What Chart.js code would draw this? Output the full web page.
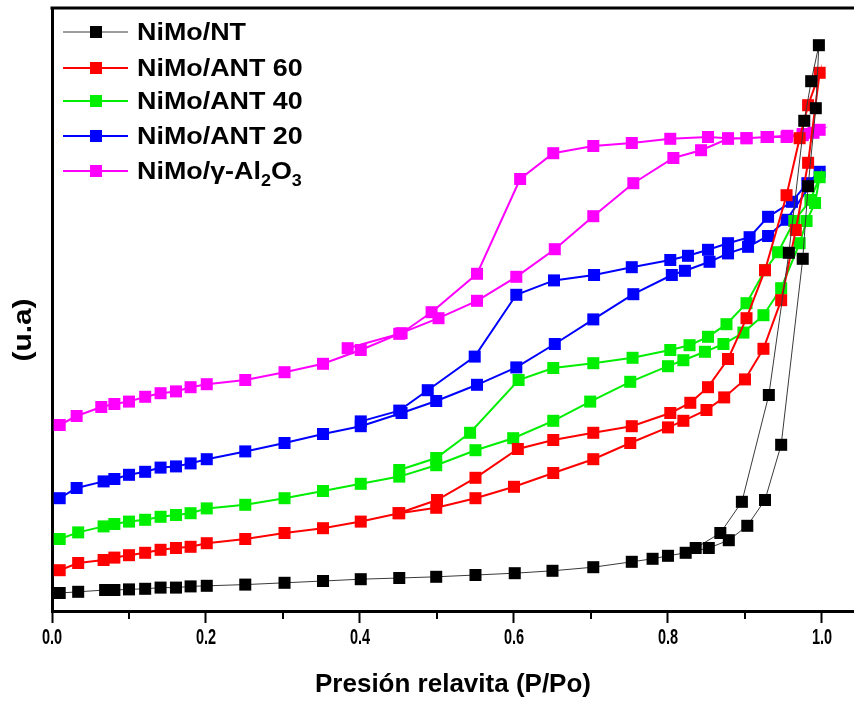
<!DOCTYPE html>
<html>
<head>
<meta charset="utf-8">
<script src="https://cdn.jsdelivr.net/npm/chart.js@4.4.0/dist/chart.umd.min.js"></script>
<style>
  html, body { margin: 0; padding: 0; background: #fff; }
  canvas { display: block; }
</style>
</head>
<body>
<canvas id="iso-canvas" width="854" height="702"></canvas>
<script>
// N2 isotherms: adsorption branch first, then desorption branch back down
const seriesLabels = ['NiMo/NT', 'NiMo/ANT 60', 'NiMo/ANT 40', 'NiMo/ANT 20', 'NiMo/γ-Al2O3'];
const seriesColors = ['#000000', '#ff0000', '#00ee00', '#0000ff', '#ff00ff'];
const lineColors = ['#3a3a3a', '#ff0000', '#00ee00', '#0000ff', '#ff00ff'];

const ntP = [0.010, 0.034, 0.069, 0.081, 0.100, 0.121, 0.141, 0.161, 0.180, 0.201, 0.251, 0.302, 0.352, 0.401,
  0.451, 0.499, 0.550, 0.601, 0.650, 0.703, 0.753, 0.780, 0.800, 0.823, 0.853, 0.879, 0.903, 0.926, 0.947,
  0.975, 0.982, 0.992, 0.996,
  0.986, 0.977, 0.957, 0.931, 0.896, 0.868, 0.836];
const ntV = [3.0, 3.2, 3.5, 3.5, 3.6, 3.7, 3.9, 3.9, 4.1, 4.2, 4.4, 4.7, 5.0, 5.3,
  5.5, 5.7, 6.0, 6.3, 6.7, 7.3, 8.2, 8.7, 9.2, 9.7, 10.5, 11.8, 14.2, 18.5, 27.7,
  58.7, 70.8, 83.8, 94.3,
  88.3, 81.7, 59.7, 36.0, 18.2, 13.0, 10.5];

const ant60P = [0.010, 0.034, 0.067, 0.081, 0.100, 0.121, 0.141, 0.161, 0.180, 0.201, 0.251, 0.302, 0.352, 0.401,
  0.451, 0.499, 0.550, 0.600, 0.651, 0.703, 0.751, 0.800, 0.820, 0.850, 0.873, 0.900, 0.924, 0.947, 0.966,
  0.982, 0.997,
  0.982, 0.971, 0.954, 0.926, 0.902, 0.878, 0.852, 0.829, 0.803, 0.753, 0.703, 0.651, 0.605, 0.550, 0.500, 0.450];
const ant60V = [6.8, 8.0, 8.5, 8.9, 9.3, 9.7, 10.2, 10.5, 10.7, 11.3, 12.0, 13.0, 13.8, 14.9,
  16.3, 17.2, 18.8, 20.7, 23.0, 25.3, 28.0, 30.6, 31.7, 33.5, 35.6, 38.6, 43.7, 51.8, 63.5,
  74.7, 89.7,
  84.3, 78.8, 69.3, 56.8, 48.8, 42.0, 37.3, 34.7, 33.0, 30.8, 29.7, 28.5, 27.0, 22.2, 18.5, 16.3];

const ant40P = [0.010, 0.034, 0.067, 0.081, 0.100, 0.121, 0.141, 0.161, 0.180, 0.201, 0.251, 0.302, 0.352, 0.401,
  0.451, 0.499, 0.550, 0.599, 0.651, 0.699, 0.751, 0.800, 0.820, 0.848, 0.872, 0.898, 0.924, 0.947, 0.971,
  0.980, 0.991, 0.997,
  0.985, 0.964, 0.943, 0.926, 0.902, 0.876, 0.852, 0.828, 0.803, 0.754, 0.703, 0.651, 0.606, 0.543, 0.499, 0.451];
const ant40V = [12.0, 13.1, 14.1, 14.5, 14.9, 15.2, 15.7, 16.0, 16.3, 17.1, 17.7, 18.8, 20.0, 21.2,
  22.4, 24.3, 26.8, 28.8, 31.7, 34.9, 38.2, 40.8, 41.8, 43.2, 44.5, 46.4, 49.3, 53.8, 61.3,
  65.0, 68.0, 72.3,
  68.5, 65.0, 59.8, 56.8, 51.3, 47.8, 45.7, 44.3, 43.5, 42.2, 41.3, 40.5, 38.5, 29.7, 25.5, 23.5];

const ant20P = [0.010, 0.032, 0.067, 0.081, 0.100, 0.121, 0.141, 0.161, 0.180, 0.201, 0.251, 0.302, 0.352, 0.401,
  0.454, 0.499, 0.552, 0.603, 0.653, 0.703, 0.755, 0.805, 0.822, 0.854, 0.878, 0.904, 0.930, 0.954, 0.997,
  0.981, 0.961, 0.930, 0.906, 0.878, 0.852, 0.826, 0.803, 0.753, 0.704, 0.652, 0.603, 0.549, 0.488, 0.451, 0.401];
const ant20V = [18.8, 20.5, 21.6, 22.0, 22.7, 23.2, 23.9, 24.1, 24.6, 25.3, 26.6, 28.0, 29.5, 30.8,
  33.0, 35.0, 37.7, 40.6, 44.5, 48.6, 52.8, 56.0, 56.7, 58.2, 59.6, 60.7, 62.5, 65.2, 73.2,
  71.3, 68.2, 65.7, 62.3, 61.3, 60.2, 59.2, 58.5, 57.3, 56.0, 55.1, 52.7, 42.4, 36.8, 33.4, 31.6];

const aluP = [0.010, 0.032, 0.064, 0.081, 0.100, 0.121, 0.141, 0.161, 0.180, 0.201, 0.251, 0.302, 0.352, 0.401,
  0.451, 0.502, 0.552, 0.603, 0.653, 0.703, 0.755, 0.807, 0.843, 0.878, 0.902, 0.930, 0.955, 0.975, 0.997,
  0.989, 0.975, 0.954, 0.928, 0.902, 0.878, 0.852, 0.803, 0.753, 0.703, 0.651, 0.608, 0.552, 0.493, 0.454, 0.384];
const aluV = [31.0, 32.5, 34.0, 34.5, 34.9, 35.7, 36.3, 36.6, 37.3, 37.8, 38.5, 39.8, 41.2, 43.5,
  46.2, 48.8, 51.7, 55.7, 60.3, 65.8, 71.3, 75.5, 76.8, 78.7, 78.8, 79.0, 79.2, 79.5, 80.2,
  79.7, 79.3, 79.0, 79.0, 78.8, 78.8, 79.0, 78.7, 78.0, 77.5, 76.3, 72.0, 56.2, 49.8, 46.3, 43.8];

const seriesP = [ntP, ant60P, ant40P, ant20P, aluP];
const seriesV = [ntV, ant60V, ant40V, ant20V, aluV];

const xMax = 1.0416;
const yMax = 100.5;

const isMajor = (v) => Math.round(v * 10) % 2 === 0;
const tickText = (v) => (isMajor(v) ? v.toFixed(1) : '');

const datasets = seriesLabels.map((label, i) => ({
  label: label,
  data: seriesP[i].map((p, j) => ({ x: p, y: seriesV[i][j] })),
  showLine: true,
  borderColor: lineColors[i],
  borderWidth: i === 0 ? 1 : 2,
  pointStyle: 'rect',
  pointRadius: 8.5,
  pointBorderWidth: 0,
  pointBackgroundColor: seriesColors[i],
  pointHoverRadius: 8.5
}));

// top frame line, minor x ticks, condensed tick labels, rotated y title and the legend
const framePlugin = {
  id: 'frame',
  afterDraw(chart) {
    const ctx = chart.ctx;
    const area = chart.chartArea;
    const xs = chart.scales.x;
    ctx.save();
    ctx.strokeStyle = '#000';
    ctx.lineWidth = 3;
    ctx.beginPath();
    ctx.moveTo(area.left - 1.5, area.top);
    ctx.lineTo(area.right, area.top);
    ctx.stroke();

    ctx.lineWidth = 2;
    for (let k = 1; k < 10; k += 2) {
      const px = Math.round(xs.getPixelForValue(k / 10));
      ctx.beginPath();
      ctx.moveTo(px, area.bottom);
      ctx.lineTo(px, area.bottom + 8);
      ctx.stroke();
    }

    ctx.fillStyle = '#000';
    ctx.font = 'bold 22px "Liberation Sans", Arial, sans-serif';
    ctx.textAlign = 'center';
    ctx.textBaseline = 'middle';
    xs.ticks.forEach((t) => {
      const label = tickText(t.value);
      if (!label) return;
      ctx.save();
      ctx.translate(xs.getPixelForValue(t.value), area.bottom + 27);
      ctx.scale(0.66, 1);
      ctx.fillText(label, 0, 0);
      ctx.restore();
    });

    ctx.font = 'bold 26px "Liberation Sans", Arial, sans-serif';
    ctx.translate(24, 330);
    ctx.rotate(-Math.PI / 2);
    ctx.scale(1.15, 1);
    ctx.fillText('(u.a)', 0, 0);
    ctx.restore();

    const rows = [32, 68, 101, 136, 171];
    chart.data.datasets.forEach((ds, i) => {
      const y = rows[i];
      ctx.save();
      ctx.strokeStyle = ds.borderColor;
      ctx.lineWidth = ds.borderWidth;
      ctx.beginPath();
      ctx.moveTo(63, y);
      ctx.lineTo(128, y);
      ctx.stroke();
      ctx.fillStyle = ds.pointBackgroundColor;
      ctx.fillRect(90, y - 6, 12, 12);
      ctx.fillStyle = '#000';
      ctx.textBaseline = 'alphabetic';
      ctx.translate(137, y + 8);
      ctx.scale(1.12, 1);
      let cx = 0;
      const text = ds.label;
      for (let c = 0; c < text.length; c++) {
        const ch = text[c];
        const sub = /[0-9]/.test(ch) && c > 0 && /[A-Za-z]/.test(text[c - 1]);
        ctx.font = sub ? 'bold 16px "Liberation Sans", Arial, sans-serif'
                       : 'bold 24px "Liberation Sans", Arial, sans-serif';
        ctx.fillText(ch, cx, sub ? 7 : 0);
        cx += ctx.measureText(ch).width;
      }
      ctx.restore();
    });
  }
};

new Chart(document.getElementById('iso-canvas'), {
  type: 'scatter',
  data: { datasets: datasets },
  options: {
    responsive: false,
    animation: false,
    devicePixelRatio: 1,
    layout: { autoPadding: false, padding: { top: 8, right: 0, left: 0, bottom: 0 } },
    plugins: {
      legend: { display: false },
      tooltip: { enabled: false }
    },
    scales: {
      x: {
        type: 'linear',
        min: 0,
        max: xMax,
        afterFit(scale) {
          scale.height = 91;
          scale.paddingLeft = 0;
          scale.paddingRight = 0;
        },
        ticks: {
          display: false,
          stepSize: 0.1,
          autoSkip: false,
          includeBounds: false,
          callback: tickText
        },
        grid: {
          drawOnChartArea: false,
          drawTicks: true,
          tickLength: 12,
          tickWidth: 2,
          tickColor: (c) => (c.tick && isMajor(c.tick.value) ? '#000' : 'rgba(0,0,0,0)')
        },
        border: { display: true, color: '#000', width: 3 },
        title: {
          display: true,
          text: 'Presión relavita (P/Po)',
          color: '#000',
          font: { family: '"Liberation Sans", Arial, sans-serif', size: 26, weight: 'bold' },
          padding: { top: 0, bottom: 2 }
        }
      },
      y: {
        min: 0,
        max: yMax,
        afterFit(scale) { scale.width = 52; },
        ticks: { display: false },
        grid: { display: false },
        border: { display: true, color: '#000', width: 3 }
      }
    }
  },
  plugins: [framePlugin]
});
</script>
</body>
</html>
